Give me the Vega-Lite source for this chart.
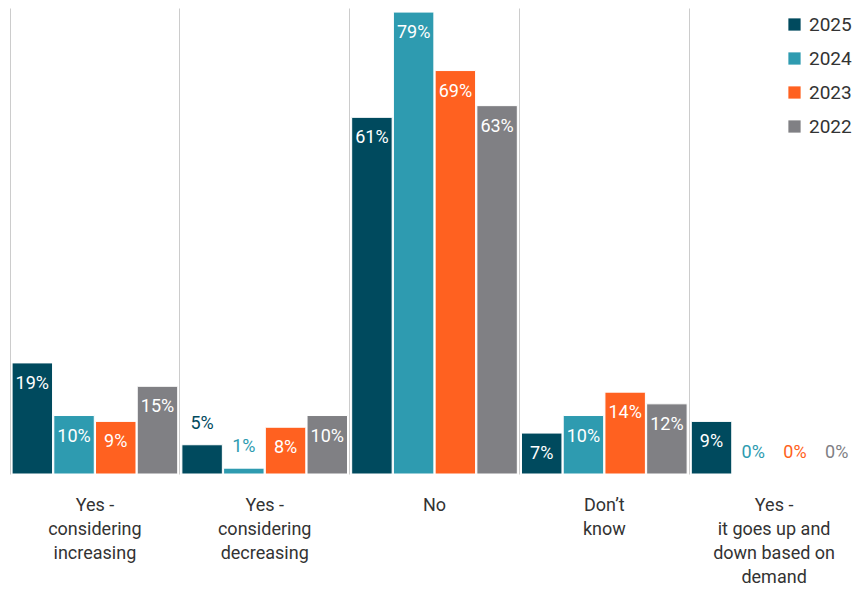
{
  "$schema": "https://vega.github.io/schema/vega-lite/v6.json",
  "autosize": {"type": "none"},
  "width": 849,
  "height": 466,
  "padding": {"left": 10, "top": 8, "right": 0, "bottom": 115},
  "background": "white",
  "config": {
    "view": {"stroke": null},
    "font": "Roboto",
    "axis": {"labelFont": "Roboto", "titleFont": "Roboto"},
    "legend": {"labelFont": "Roboto"}
  },
  "data": {
    "values": [
      {"category": "Yes -|considering|increasing", "year": "2025", "value": 0.19},
      {"category": "Yes -|considering|increasing", "year": "2024", "value": 0.10},
      {"category": "Yes -|considering|increasing", "year": "2023", "value": 0.09},
      {"category": "Yes -|considering|increasing", "year": "2022", "value": 0.15},
      {"category": "Yes -|considering|decreasing", "year": "2025", "value": 0.05},
      {"category": "Yes -|considering|decreasing", "year": "2024", "value": 0.01},
      {"category": "Yes -|considering|decreasing", "year": "2023", "value": 0.08},
      {"category": "Yes -|considering|decreasing", "year": "2022", "value": 0.10},
      {"category": "No", "year": "2025", "value": 0.61},
      {"category": "No", "year": "2024", "value": 0.79},
      {"category": "No", "year": "2023", "value": 0.69},
      {"category": "No", "year": "2022", "value": 0.63},
      {"category": "Don’t|know", "year": "2025", "value": 0.07},
      {"category": "Don’t|know", "year": "2024", "value": 0.10},
      {"category": "Don’t|know", "year": "2023", "value": 0.14},
      {"category": "Don’t|know", "year": "2022", "value": 0.12},
      {"category": "Yes -|it goes up and|down based on|demand", "year": "2025", "value": 0.09},
      {"category": "Yes -|it goes up and|down based on|demand", "year": "2024", "value": 0},
      {"category": "Yes -|it goes up and|down based on|demand", "year": "2023", "value": 0},
      {"category": "Yes -|it goes up and|down based on|demand", "year": "2022", "value": 0}
    ]
  },
  "encoding": {
    "x": {
      "field": "category",
      "type": "nominal",
      "sort": null,
      "scale": {"paddingInner": 0, "paddingOuter": 0},
      "axis": {
        "title": null,
        "labelAngle": 0,
        "labelExpr": "split(datum.label, '|')",
        "labelFontSize": 18,
        "labelColor": "#333333",
        "labelLineHeight": 24,
        "labelBaseline": "top",
        "labelPadding": 22,
        "ticks": false,
        "domain": false,
        "grid": true,
        "gridColor": "#cccccc",
        "gridWidth": 1,
        "bandPosition": 0
      }
    },
    "xOffset": {
      "field": "year",
      "type": "nominal",
      "sort": ["2025", "2024", "2023", "2022"],
      "scale": {"paddingInner": 0.03, "paddingOuter": 0.05}
    },
    "y": {
      "field": "value",
      "type": "quantitative",
      "scale": {"domain": [0, 0.797], "nice": false},
      "axis": null
    }
  },
  "layer": [
    {
      "mark": {"type": "bar", "stroke": "white", "strokeWidth": 1},
      "encoding": {
        "color": {
          "field": "year",
          "type": "nominal",
          "sort": ["2025", "2024", "2023", "2022"],
          "scale": {
            "domain": ["2025", "2024", "2023", "2022"],
            "range": ["#004a5e", "#2e9bb0", "#ff6120", "#808084"]
          },
          "legend": {
            "title": null,
            "orient": "none",
            "legendX": 775,
            "legendY": 7,
            "symbolType": "square",
            "symbolSize": 150,
            "symbolStrokeWidth": 0,
            "labelFontSize": 19,
            "labelColor": "#333333",
            "rowPadding": 14,
            "labelOffset": 5
          }
        }
      }
    },
    {
      "transform": [{"filter": "datum.value >= 0.06"}],
      "mark": {"type": "text", "baseline": "middle", "dy": 21, "fontSize": 18, "color": "white"},
      "encoding": {
        "text": {"field": "value", "type": "quantitative", "format": ".0%"}
      }
    },
    {
      "transform": [{"filter": "datum.value < 0.06"}],
      "mark": {"type": "text", "baseline": "middle", "dy": -21, "fontSize": 18},
      "encoding": {
        "text": {"field": "value", "type": "quantitative", "format": ".0%"},
        "color": {"field": "year", "type": "nominal", "legend": null}
      }
    }
  ]
}
